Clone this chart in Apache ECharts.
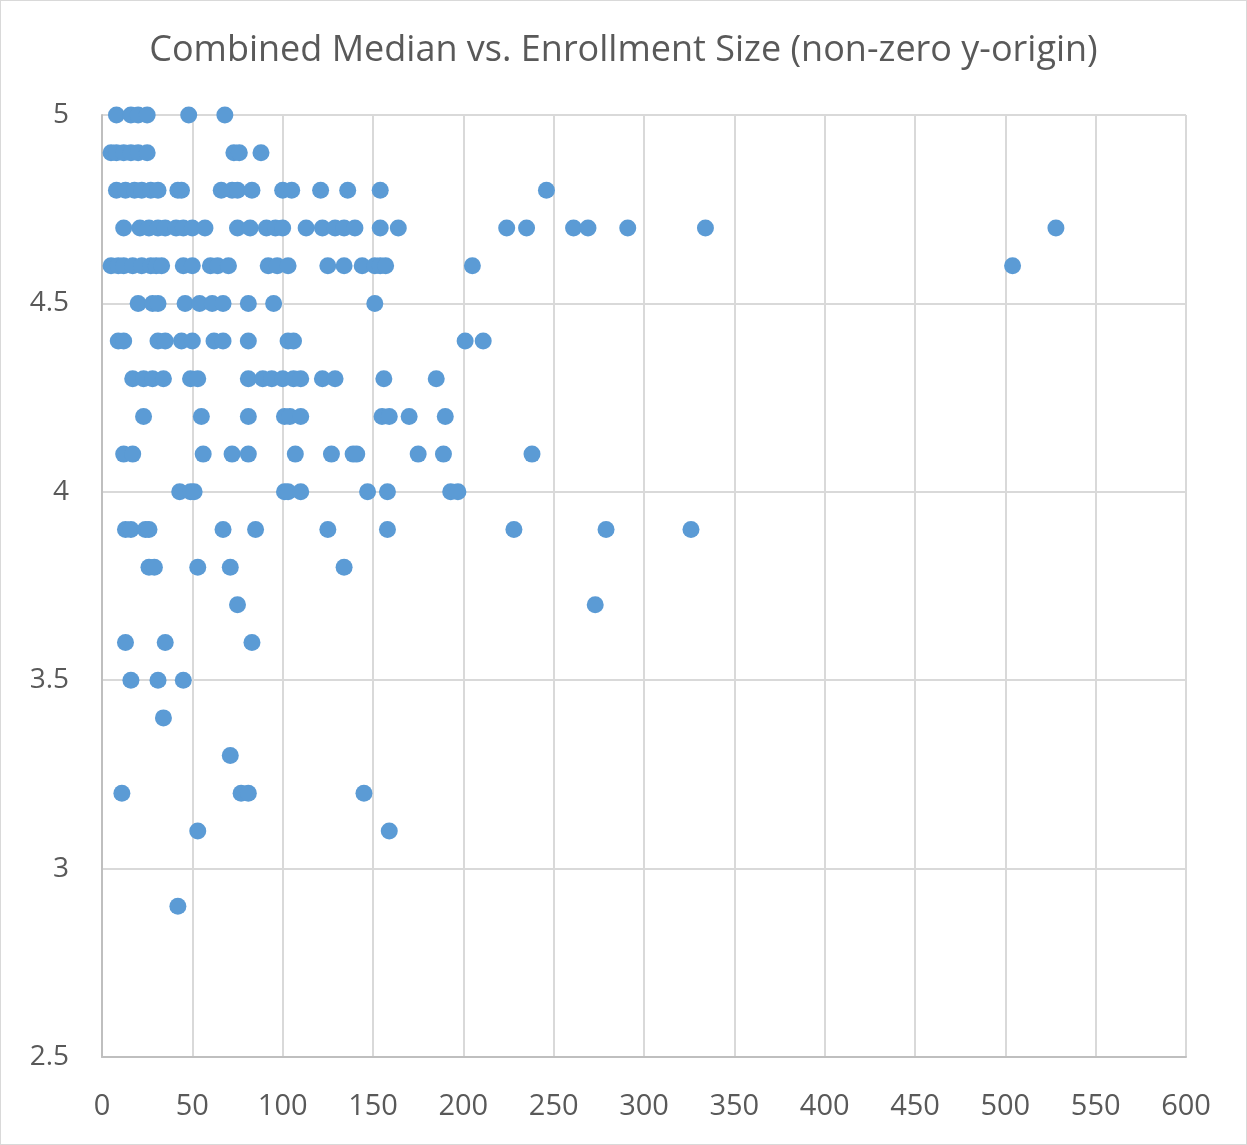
<!DOCTYPE html>
<html>
<head>
<meta charset="utf-8">
<script src="https://cdn.jsdelivr.net/npm/echarts@6/dist/echarts.min.js"></script>
<style>
  html, body { margin: 0; padding: 0; background: #fff; }
  #chart { width: 1247px; height: 1145px; box-sizing: border-box; border: 1px solid #d9d9d9; }
</style>
</head>
<body>
<div id="chart"></div>
<script>
// enrollment sizes per median value (one row per y level)
const medians = [5.0, 4.9, 4.8, 4.7, 4.6, 4.5, 4.4, 4.3, 4.2, 4.1, 4.0, 3.9, 3.8, 3.7, 3.6, 3.5, 3.4, 3.3, 3.2, 3.1, 2.9]
const enrollRows = [
  [8, 16, 20, 25, 48, 68],
  [5, 8, 12, 16, 20, 25, 73, 76, 88],
  [8, 13, 18, 22, 27, 31, 42, 44, 66, 72, 75, 83, 100, 105, 121, 136, 154, 246],
  [12, 21, 26, 31, 35, 41, 45, 50, 57, 75, 82, 91, 96, 100, 113, 122, 129, 134, 140, 154, 164, 224, 235, 261, 269, 291, 334, 528],
  [5, 9, 12, 17, 22, 27, 30, 33, 45, 50, 60, 64, 70, 92, 97, 103, 125, 134, 144, 151, 154, 157, 205, 504],
  [20, 28, 31, 46, 54, 61, 67, 81, 95, 151],
  [9, 12, 31, 35, 44, 50, 62, 67, 81, 103, 106, 201, 211],
  [17, 23, 28, 34, 49, 53, 81, 89, 94, 100, 106, 110, 122, 129, 156, 185],
  [23, 55, 81, 101, 104, 110, 155, 159, 170, 190],
  [12, 17, 56, 72, 81, 107, 127, 139, 141, 175, 189, 238],
  [43, 49, 51, 101, 103, 110, 147, 158, 193, 197],
  [13, 16, 24, 26, 67, 85, 125, 158, 228, 279, 326],
  [26, 29, 53, 71, 134],
  [75, 273],
  [13, 35, 83],
  [16, 31, 45],
  [34],
  [71],
  [11, 77, 81, 145],
  [53, 159],
  [42]
]
const xTicks = [0, 50, 100, 150, 200, 250, 300, 350, 400, 450, 500, 550, 600]
const yTicks = [2.5, 3, 3.5, 4, 4.5, 5]

let points = []
enrollRows.forEach((row, i) => {
  row.forEach(x => points.push([x, medians[i]]))
})

let myChart = echarts.init(document.getElementById('chart'))
let option = {
  animation: false,
  title: {
    text: 'Combined Median vs. Enrollment Size (non-zero y-origin)',
    left: 'center',
    top: 27,
    textStyle: { fontFamily: 'Open Sans', fontSize: 36, fontWeight: 'normal', color: '#595959' }
  },
  grid: { left: 101, right: 60, top: 114, bottom: 87 },
  xAxis: {
    type: 'value',
    min: xTicks[0],
    max: xTicks[xTicks.length - 1],
    interval: 50,
    axisLine: { show: true, lineStyle: { color: '#bfbfbf', width: 2 } },
    axisTick: { show: false },
    splitLine: { show: true, lineStyle: { color: '#d9d9d9', width: 2 } },
    axisLabel: { fontFamily: 'Open Sans', fontSize: 29, color: '#595959', margin: 35 }
  },
  yAxis: {
    type: 'value',
    min: yTicks[0],
    max: yTicks[yTicks.length - 1],
    interval: 0.5,
    axisLine: { show: true, lineStyle: { color: '#bfbfbf', width: 2 } },
    axisTick: { show: false },
    splitLine: { show: true, lineStyle: { color: '#d9d9d9', width: 2 } },
    axisLabel: { fontFamily: 'Open Sans', fontSize: 28, color: '#595959', margin: 33 }
  },
  series: [
    {
      type: 'scatter',
      symbolSize: 17,
      itemStyle: { color: '#5b9bd5', opacity: 1 },
      data: points
    }
  ]
}
myChart.setOption(option)
</script>
</body>
</html>
